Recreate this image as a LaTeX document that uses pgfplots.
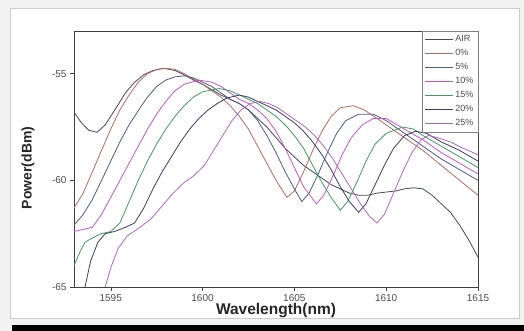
\documentclass[border=0pt]{standalone}
\usepackage{pgfplots}
\pgfplotsset{compat=1.18}
\usepackage{fontspec}
\setmainfont{Liberation Sans}
\definecolor{cair}{HTML}{454B55}
\definecolor{c0}{HTML}{B86A5E}
\definecolor{c5}{HTML}{4C5C88}
\definecolor{c10}{HTML}{C455C8}
\definecolor{c15}{HTML}{3E9C5C}
\definecolor{c20}{HTML}{3A3C6C}
\definecolor{c25}{HTML}{B066C4}
\begin{document}
\begin{tikzpicture}[x=1pt,y=1pt]
\fill[black!5] (0,0) rectangle (524,331);
\fill[white,draw=black!20] (10,13) rectangle (519,323);
\fill[black] (12,0) rectangle (524,6);
\begin{axis}[
  at={(74pt,44pt)}, anchor=south west,
  scale only axis, width=404pt, height=256pt,
  xmin=1593, xmax=1615, ymin=-65, ymax=-53,
  xtick={1595,1600,1605,1610,1615},
  ytick={-65,-60,-55},
  yticklabels={-65,-60,-55},
  xtick pos=bottom, ytick pos=left,
  tick align=outside, major tick length=4pt,
  minor tick num=0,
  axis line style={black!75},
  every tick/.style={black!75},
  /pgf/number format/assume math mode=true,
  /pgf/number format/1000 sep={},
  tick label style={font=\fontsize{10}{11}\selectfont, text=black!70},
  xlabel={Wavelength(nm)},
  ylabel={Power(dBm)},
  xlabel style={font=\fontsize{15.5}{16}\selectfont\bfseries, at={(axis description cs:0.5,0)}, anchor=base, yshift=-28pt, text=black!85},
  ylabel style={font=\fontsize{14}{15}\selectfont\bfseries, at={(axis description cs:-0.114,0.465)}, anchor=center, text=black!85},
  legend style={at={(1,1)}, anchor=north east, font=\fontsize{9}{9}\selectfont, draw=black!50, fill=white, inner sep=2.5pt, row sep=2.2pt, text=black!70},
  legend cell align=left,
  legend image code/.code={\draw[#1] (0pt,0pt) -- (28pt,0pt);},
  every axis plot/.append style={line width=0.8pt},
]
\addplot[cair] coordinates {(1593,-56.8) (1593.4,-57.3) (1593.8,-57.65) (1594.25,-57.75) (1594.7,-57.4) (1595.3,-56.6) (1595.8,-55.9) (1596.3,-55.4) (1596.8,-55.05) (1597.3,-54.85) (1597.9,-54.75) (1598.5,-54.85) (1599,-55.05) (1599.5,-55.3) (1600,-55.5) (1600.5,-55.75) (1601,-56.0) (1601.5,-56.2) (1602,-56.4) (1602.5,-56.7) (1603,-57.1) (1603.5,-57.5) (1604,-58.0) (1604.5,-58.5) (1605,-58.9) (1605.5,-59.3) (1606,-59.6) (1606.5,-59.9) (1607,-60.2) (1607.5,-60.4) (1608,-60.6) (1608.5,-60.7) (1609,-60.7) (1609.5,-60.6) (1610,-60.55) (1610.5,-60.5) (1611,-60.4) (1611.5,-60.35) (1612,-60.4) (1612.5,-60.7) (1613,-61.1) (1613.5,-61.5) (1614,-62.1) (1614.5,-62.8) (1615,-63.6)};
\addlegendentry{AIR}
\addplot[c0] coordinates {(1593,-61.3) (1593.5,-60.6) (1594,-59.6) (1594.5,-58.6) (1595,-57.6) (1595.5,-56.7) (1596,-56.0) (1596.5,-55.4) (1597,-55.0) (1597.5,-54.8) (1598,-54.75) (1598.5,-54.8) (1599,-55.0) (1599.5,-55.25) (1600,-55.5) (1600.5,-55.8) (1601,-56.1) (1601.5,-56.5) (1602,-57.0) (1602.5,-57.6) (1603,-58.4) (1603.5,-59.2) (1604,-60.0) (1604.6,-60.8) (1605,-60.5) (1605.5,-59.6) (1606,-58.6) (1606.5,-57.7) (1607,-57.0) (1607.5,-56.6) (1608.2,-56.5) (1608.8,-56.7) (1609.5,-57.1) (1610,-57.4) (1611,-58.0) (1612,-58.6) (1613,-59.3) (1614,-60.0) (1615,-60.7)};
\addlegendentry{0\%}
\addplot[c5] coordinates {(1593,-62.1) (1593.5,-61.6) (1594,-60.9) (1594.5,-60.0) (1595,-59.1) (1595.5,-58.2) (1596,-57.4) (1596.6,-56.6) (1597,-56.1) (1597.5,-55.6) (1598,-55.3) (1598.5,-55.15) (1599,-55.1) (1599.5,-55.2) (1600,-55.4) (1600.5,-55.6) (1601,-55.9) (1601.5,-56.2) (1602,-56.4) (1602.5,-56.7) (1603,-57.2) (1603.5,-57.9) (1604,-58.7) (1604.5,-59.6) (1605,-60.4) (1605.4,-61.0) (1605.8,-60.6) (1606.3,-59.7) (1606.8,-58.7) (1607.3,-57.8) (1607.8,-57.2) (1608.5,-56.9) (1609.3,-56.9) (1610,-57.2) (1611,-57.8) (1612,-58.4) (1613,-59.0) (1614,-59.5) (1615,-60.0)};
\addlegendentry{5\%}
\addplot[c10] coordinates {(1593,-62.4) (1593.5,-62.3) (1594,-62.2) (1594.5,-61.6) (1595,-60.8) (1595.5,-60.0) (1596,-59.2) (1596.5,-58.4) (1597,-57.6) (1597.5,-56.9) (1598,-56.3) (1598.5,-55.8) (1599,-55.5) (1599.8,-55.3) (1600.5,-55.4) (1601,-55.6) (1601.5,-55.9) (1602,-56.2) (1602.5,-56.4) (1603,-56.7) (1603.5,-57.1) (1604,-57.7) (1604.5,-58.5) (1605,-59.4) (1605.5,-60.3) (1606.2,-61.1) (1606.6,-60.7) (1607.1,-59.8) (1607.6,-58.8) (1608.1,-58.0) (1608.7,-57.4) (1609.3,-57.1) (1610,-57.1) (1611,-57.6) (1612,-58.1) (1613,-58.7) (1614,-59.2) (1615,-59.7)};
\addlegendentry{10\%}
\addplot[c15] coordinates {(1593,-64.0) (1593.3,-63.4) (1593.6,-62.9) (1594,-62.7) (1594.5,-62.5) (1595,-62.4) (1595.5,-62.0) (1596,-61.0) (1596.5,-60.0) (1597,-59.1) (1597.5,-58.3) (1598,-57.6) (1598.5,-57.0) (1599,-56.5) (1599.5,-56.1) (1600,-55.85) (1600.9,-55.7) (1601.5,-55.8) (1602,-56.0) (1602.5,-56.2) (1603,-56.4) (1603.5,-56.7) (1604,-57.0) (1604.5,-57.4) (1605,-57.9) (1605.5,-58.5) (1606,-59.3) (1606.5,-60.1) (1607,-60.8) (1607.5,-61.4) (1607.9,-61.0) (1608.4,-60.1) (1608.9,-59.1) (1609.4,-58.3) (1610,-57.8) (1610.9,-57.5) (1611.5,-57.6) (1612,-57.9) (1613,-58.4) (1614,-58.9) (1615,-59.4)};
\addlegendentry{15\%}
\addplot[c20] coordinates {(1593.6,-65.0) (1593.9,-63.8) (1594.3,-62.9) (1594.7,-62.5) (1595.2,-62.4) (1595.8,-62.2) (1596.3,-62.0) (1596.8,-61.3) (1597.3,-60.4) (1597.8,-59.6) (1598.3,-58.9) (1598.8,-58.2) (1599.3,-57.6) (1599.8,-57.1) (1600.3,-56.7) (1600.8,-56.4) (1601.3,-56.15) (1602,-56.0) (1602.5,-56.1) (1603,-56.3) (1603.5,-56.5) (1604,-56.7) (1604.5,-57.0) (1605,-57.3) (1605.5,-57.7) (1606,-58.2) (1606.5,-58.8) (1607,-59.5) (1607.5,-60.3) (1608,-61.0) (1608.5,-61.5) (1608.9,-61.1) (1609.4,-60.2) (1609.9,-59.3) (1610.4,-58.5) (1611,-57.9) (1611.6,-57.7) (1612.2,-57.8) (1613,-58.2) (1614,-58.6) (1615,-59.1)};
\addlegendentry{20\%}
\addplot[c25] coordinates {(1594.7,-65.0) (1595,-64.1) (1595.4,-63.2) (1595.9,-62.6) (1596.6,-62.2) (1597.2,-61.8) (1597.8,-61.2) (1598.4,-60.6) (1599,-60.1) (1599.5,-59.8) (1600.1,-59.3) (1600.6,-58.6) (1601.1,-57.9) (1601.6,-57.2) (1602.1,-56.7) (1602.6,-56.4) (1603.1,-56.3) (1603.6,-56.4) (1604.1,-56.6) (1604.6,-56.9) (1605.1,-57.2) (1605.6,-57.5) (1606.1,-57.9) (1606.6,-58.4) (1607.1,-59.0) (1607.6,-59.7) (1608.1,-60.4) (1608.6,-61.1) (1609.1,-61.7) (1609.5,-62.0) (1609.9,-61.6) (1610.4,-60.6) (1610.9,-59.6) (1611.4,-58.7) (1611.9,-58.1) (1612.3,-57.9) (1612.8,-58.0) (1613.5,-58.2) (1614.2,-58.5) (1615,-58.8)};
\addlegendentry{25\%}
\end{axis}
\path[use as bounding box] (0,0) rectangle (524,331);
\end{tikzpicture}
\end{document}
